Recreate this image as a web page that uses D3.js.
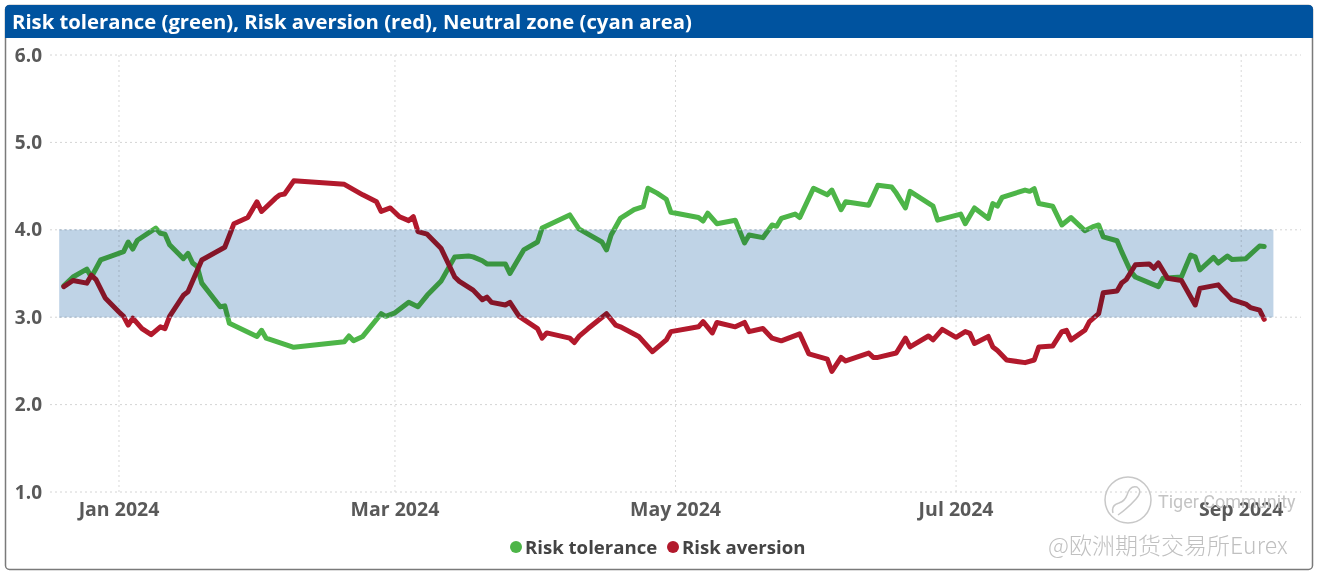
<!DOCTYPE html>
<html>
<head>
<meta charset="utf-8">
<script src="https://cdn.jsdelivr.net/npm/d3@7"></script>
<style>
  body { margin: 0; background: #fff; }
  svg { display: block; font-family: "Open Sans", sans-serif; }
</style>
</head>
<body>
<svg id="chart"></svg>
<script>
const title = 'Risk tolerance (green), Risk aversion (red), Neutral zone (cyan area)';

const toleranceDates = ['2023-12-20','2023-12-22','2023-12-25','2023-12-26','2023-12-28','2024-01-02','2024-01-03','2024-01-04','2024-01-05','2024-01-09','2024-01-10','2024-01-11','2024-01-12','2024-01-15','2024-01-16','2024-01-17','2024-01-18','2024-01-19','2024-01-23','2024-01-24','2024-01-25','2024-01-31','2024-02-01','2024-02-02','2024-02-08','2024-02-19','2024-02-20','2024-02-21','2024-02-23','2024-02-27','2024-02-28','2024-03-01','2024-03-04','2024-03-06','2024-03-08','2024-03-11','2024-03-14','2024-03-17','2024-03-18','2024-03-20','2024-03-21','2024-03-25','2024-03-26','2024-03-29','2024-04-01','2024-04-02','2024-04-08','2024-04-10','2024-04-15','2024-04-16','2024-04-17','2024-04-19','2024-04-22','2024-04-24','2024-04-25','2024-04-27','2024-04-29','2024-04-30','2024-05-06','2024-05-07','2024-05-08','2024-05-10','2024-05-14','2024-05-16','2024-05-17','2024-05-20','2024-05-22','2024-05-23','2024-05-24','2024-05-27','2024-05-28','2024-05-31','2024-06-03','2024-06-04','2024-06-06','2024-06-07','2024-06-12','2024-06-14','2024-06-17','2024-06-18','2024-06-20','2024-06-21','2024-06-26','2024-06-27','2024-07-02','2024-07-03','2024-07-05','2024-07-08','2024-07-09','2024-07-10','2024-07-11','2024-07-16','2024-07-17','2024-07-18','2024-07-19','2024-07-22','2024-07-24','2024-07-26','2024-07-29','2024-07-31','2024-08-01','2024-08-02','2024-08-05','2024-08-06','2024-08-08','2024-08-09','2024-08-14','2024-08-15','2024-08-19','2024-08-21','2024-08-22','2024-08-23','2024-08-26','2024-08-27','2024-08-29','2024-08-30','2024-09-02','2024-09-05','2024-09-06'];
const toleranceValues = [3.36,3.46,3.55,3.46,3.655,3.75,3.86,3.78,3.88,4.02,3.96,3.95,3.83,3.67,3.73,3.62,3.58,3.39,3.12,3.13,2.93,2.78,2.85,2.76,2.655,2.72,2.785,2.73,2.78,3.04,3.01,3.05,3.17,3.12,3.25,3.41,3.69,3.70,3.69,3.646,3.61,3.61,3.50,3.77,3.86,4.02,4.17,4.01,3.86,3.77,3.94,4.13,4.23,4.265,4.475,4.42,4.35,4.20,4.14,4.10,4.19,4.07,4.11,3.85,3.94,3.91,4.055,4.04,4.13,4.18,4.14,4.475,4.40,4.455,4.23,4.32,4.28,4.51,4.49,4.42,4.25,4.44,4.27,4.11,4.18,4.07,4.25,4.13,4.30,4.27,4.37,4.455,4.44,4.47,4.30,4.27,4.055,4.14,3.99,4.04,4.055,3.92,3.875,3.75,3.52,3.46,3.35,3.445,3.46,3.71,3.69,3.54,3.685,3.62,3.70,3.66,3.67,3.815,3.81];

const aversionDates = ['2023-12-20','2023-12-22','2023-12-25','2023-12-26','2023-12-27','2023-12-29','2024-01-01','2024-01-02','2024-01-03','2024-01-04','2024-01-06','2024-01-08','2024-01-10','2024-01-11','2024-01-12','2024-01-15','2024-01-16','2024-01-19','2024-01-24','2024-01-26','2024-01-29','2024-01-31','2024-02-01','2024-02-04','2024-02-05','2024-02-06','2024-02-08','2024-02-19','2024-02-21','2024-02-23','2024-02-26','2024-02-27','2024-02-29','2024-03-02','2024-03-04','2024-03-05','2024-03-06','2024-03-08','2024-03-11','2024-03-14','2024-03-15','2024-03-18','2024-03-20','2024-03-21','2024-03-22','2024-03-25','2024-03-26','2024-03-28','2024-04-01','2024-04-02','2024-04-03','2024-04-08','2024-04-09','2024-04-10','2024-04-12','2024-04-16','2024-04-18','2024-04-19','2024-04-23','2024-04-26','2024-04-29','2024-04-30','2024-05-06','2024-05-07','2024-05-09','2024-05-10','2024-05-14','2024-05-16','2024-05-17','2024-05-20','2024-05-22','2024-05-24','2024-05-28','2024-05-30','2024-06-03','2024-06-04','2024-06-06','2024-06-07','2024-06-12','2024-06-13','2024-06-14','2024-06-18','2024-06-20','2024-06-21','2024-06-25','2024-06-26','2024-06-28','2024-07-01','2024-07-03','2024-07-04','2024-07-05','2024-07-08','2024-07-09','2024-07-10','2024-07-12','2024-07-16','2024-07-18','2024-07-19','2024-07-22','2024-07-24','2024-07-25','2024-07-26','2024-07-29','2024-07-30','2024-08-01','2024-08-02','2024-08-05','2024-08-06','2024-08-07','2024-08-09','2024-08-12','2024-08-13','2024-08-14','2024-08-16','2024-08-19','2024-08-22','2024-08-23','2024-08-27','2024-08-28','2024-08-30','2024-09-02','2024-09-03','2024-09-05','2024-09-06'];
const aversionValues = [3.35,3.42,3.39,3.48,3.43,3.22,3.06,3.01,2.91,2.99,2.87,2.80,2.89,2.87,3.01,3.25,3.29,3.655,3.80,4.07,4.14,4.32,4.21,4.36,4.40,4.41,4.56,4.52,4.46,4.40,4.32,4.21,4.25,4.15,4.105,4.15,3.98,3.95,3.79,3.46,3.41,3.31,3.20,3.23,3.17,3.14,3.17,3.01,2.87,2.76,2.82,2.76,2.71,2.78,2.87,3.04,2.91,2.89,2.78,2.605,2.74,2.835,2.89,2.95,2.82,2.94,2.89,2.94,2.835,2.87,2.76,2.73,2.81,2.58,2.52,2.38,2.54,2.50,2.59,2.54,2.54,2.59,2.76,2.66,2.785,2.74,2.86,2.77,2.835,2.815,2.70,2.78,2.66,2.62,2.51,2.48,2.51,2.66,2.67,2.835,2.85,2.74,2.85,2.95,3.04,3.28,3.30,3.39,3.43,3.60,3.61,3.56,3.62,3.445,3.42,3.14,3.33,3.37,3.31,3.20,3.15,3.11,3.08,2.975];

const neutralZone = [3.0, 4.0];
const neutralDates = ['2023-12-19', '2024-09-08'];
const yTicks = [1, 2, 3, 4, 5, 6];
const xTicks = ['2024-01-01', '2024-03-01', '2024-05-01', '2024-07-01', '2024-09-01'];
const seriesNames = ['Risk tolerance', 'Risk aversion'];

const width = 1318, height = 575;
const green = '#4db548', red = '#b2192c';
const parse = d3.utcParse('%Y-%m-%d');

const svg = d3.select('#chart').attr('width', width).attr('height', height);

// panel + title bar
svg.append('rect')
	.attr('x', 5.5).attr('y', 5.5).attr('width', 1307).attr('height', 564)
	.attr('rx', 4).attr('fill', '#fff').attr('stroke', '#7a7a7a').attr('stroke-width', 1.5);
svg.append('path')
	.attr('d', 'M5,38 V9.5 Q5,5 9.5,5 H1308.5 Q1313,5 1313,9.5 V38 Z')
	.attr('fill', '#00539f');
svg.append('text')
	.attr('x', 12).attr('y', 29)
	.attr('fill', '#fff').attr('font-size', 20.3).attr('font-weight', 700)
	.text(title);

const x = d3.scaleUtc()
	.domain([parse('2023-12-17'), parse('2024-09-14')])
	.range([50, 1301]);
const y = d3.scaleLinear().domain([1, 6]).range([492, 55]);

// grid
svg.append('g').selectAll('line').data(yTicks).join('line')
	.attr('x1', 50).attr('x2', 1301)
	.attr('y1', d => y(d)).attr('y2', d => y(d))
	.attr('stroke', '#d4d4d4').attr('stroke-dasharray', '2,3');
svg.append('g').selectAll('line').data(xTicks).join('line')
	.attr('x1', d => x(parse(d))).attr('x2', d => x(parse(d)))
	.attr('y1', 55).attr('y2', 492)
	.attr('stroke', '#d9d9d9').attr('stroke-dasharray', '2,3');

// axes text
svg.append('g').selectAll('text').data(yTicks).join('text')
	.attr('x', 42).attr('y', d => y(d)).attr('dy', '0.35em')
	.attr('text-anchor', 'end').attr('fill', '#595959')
	.attr('font-size', 19).attr('font-weight', 700)
	.text(d3.format('.1f'));
svg.append('g').selectAll('text').data(xTicks).join('text')
	.attr('x', d => x(parse(d))).attr('y', 516)
	.attr('text-anchor', 'middle').attr('fill', '#595959')
	.attr('font-size', 19.5).attr('font-weight', 700)
	.text(d => d3.utcFormat('%b %Y')(parse(d)));

// lines
const line = d3.line().x(d => x(d[0])).y(d => y(d[1]));
const tol = toleranceDates.map((d, i) => [parse(d), toleranceValues[i]]);
const av = aversionDates.map((d, i) => [parse(d), aversionValues[i]]);

svg.append('path').datum(tol).attr('d', line)
	.attr('fill', 'none').attr('stroke', green).attr('stroke-width', 5)
	.attr('stroke-linejoin', 'round').attr('stroke-linecap', 'round');
svg.append('path').datum(av).attr('d', line)
	.attr('fill', 'none').attr('stroke', red).attr('stroke-width', 5)
	.attr('stroke-linejoin', 'round').attr('stroke-linecap', 'round');

// neutral zone on top, multiplied
svg.append('rect')
	.attr('x', x(parse(neutralDates[0])))
	.attr('width', x(parse(neutralDates[1])) - x(parse(neutralDates[0])))
	.attr('y', y(neutralZone[1]))
	.attr('height', y(neutralZone[0]) - y(neutralZone[1]))
	.attr('fill', '#bfd3e6')
	.style('mix-blend-mode', 'multiply');
svg.append('g').selectAll('line').data(neutralZone).join('line')
	.attr('x1', x(parse(neutralDates[0]))).attr('x2', x(parse(neutralDates[1])))
	.attr('y1', d => y(d)).attr('y2', d => y(d))
	.attr('stroke', '#a9bccf').attr('stroke-dasharray', '2,3');

// legend
const legend = svg.append('g');
const legendX = [516, 673];
[green, red].forEach((c, i) => {
	legend.append('circle').attr('cx', legendX[i]).attr('cy', 547).attr('r', 6).attr('fill', c);
	legend.append('text')
		.attr('x', legendX[i] + 9).attr('y', 547).attr('dy', '0.35em')
		.attr('fill', '#444').attr('font-size', 18.6).attr('font-weight', 700)
		.text(seriesNames[i]);
});

// watermark
const wm = svg.append('g').attr('fill', 'none').attr('stroke', '#c8c8c8').attr('stroke-width', 1.5);
wm.append('circle').attr('cx', 1128).attr('cy', 500).attr('r', 23);
wm.append('path').attr('d', 'M1113,513 q-2,-8 6,-10 q6,-2 8,-8 q3,-10 10,-8 q6,4 -1,12 q-8,9 -18,16');
svg.append('text')
	.attr('x', 1158).attr('y', 508)
	.attr('fill', '#c4c4c4').attr('font-size', 18).attr('font-family', 'Roboto, sans-serif')
	.text('Tiger Community');
svg.append('text')
	.attr('x', 1048).attr('y', 554)
	.attr('fill', '#c0c0c0').attr('font-size', 23).attr('font-family', '"Noto Sans CJK SC", sans-serif')
	.attr('font-weight', 300)
	.text('@欧洲期货交易所Eurex');
</script>
</body>
</html>
